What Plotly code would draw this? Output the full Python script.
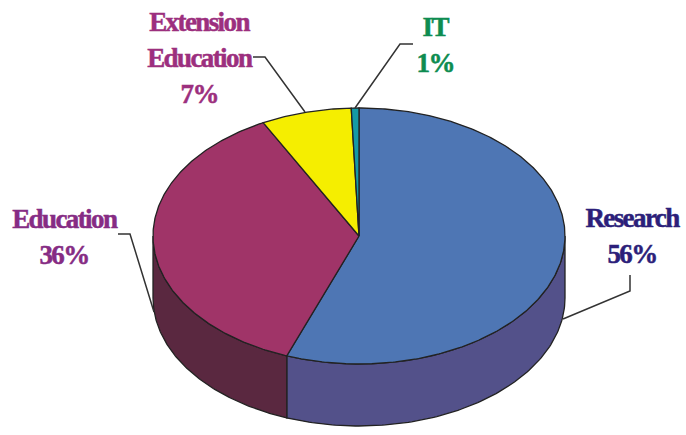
import numpy as np
import plotly.graph_objects as go

categories = ["Research", "Education", "Extension Education", "IT"]
values = [55.7, 36.6, 7.1, 0.6]
top_colors = ["#4E76B4", "#A03468", "#F5EE00", "#159AA5"]
side_colors = ["#53518A", "#5A2840", "#8A8600", "#0C5A60"]
text_colors = ["#2C1F7A", "#862C84", "#9C2F7E", "#0E8C50"]
label_lines = [["Research", "56%"], ["Education", "36%"], ["Extension", "Education", "7%"], ["IT", "1%"]]

CX, CY, RX, RY, DEPTH = 359, 236, 206, 128, 62

fig = go.Figure()
fracs = np.cumsum([0] + values) / sum(values)


def pt(theta, dy=0):
    return CX + RX * np.sin(theta), CY - RY * np.cos(theta) + dy


# sides: front-facing wall parts
for i, v in enumerate(values):
    a0, a1 = fracs[i] * 2 * np.pi, fracs[i + 1] * 2 * np.pi
    lo, hi = max(a0, np.pi / 2), min(a1, 3 * np.pi / 2)
    if hi <= lo:
        continue
    t = np.linspace(lo, hi, 120)
    x1, y1 = pt(t)
    x2, y2 = pt(t[::-1], DEPTH)
    fig.add_trace(go.Scatter(x=np.r_[x1, x2, x1[0]], y=np.r_[y1, y2, y1[0]], mode="lines", fill="toself",
                             fillcolor=side_colors[i], line=dict(color="#222", width=1.3), hoverinfo="skip"))
# top slices
for i, v in enumerate(values):
    t = np.linspace(fracs[i], fracs[i + 1], max(int(v * 6), 8)) * 2 * np.pi
    x, y = pt(t)
    fig.add_trace(go.Scatter(x=np.r_[CX, x, CX], y=np.r_[CY, y, CY], mode="lines", fill="toself",
                             fillcolor=top_colors[i], line=dict(color="#222", width=1.3), name=categories[i],
                             hoverinfo="skip"))

# leader lines
leaders = [
    ([563, 630, 630], [319, 291, 275]),
    ([154, 130, 118], [312, 234, 234]),
    ([305, 265, 253], [112, 57, 57]),
    ([355, 400, 413], [108, 44, 44]),
]
for lx, ly in leaders:
    fig.add_trace(go.Scatter(x=lx, y=ly, mode="lines", line=dict(color="#333", width=1.5), hoverinfo="skip"))

anchors = [(632, 218), (64, 219), (199, 22), (435, 27)]
LH = 36
for lines, (ax, ay), c in zip(label_lines, anchors, text_colors):
    for j, s in enumerate(lines):
        fig.add_annotation(x=ax, y=ay + j * LH, text=s, showarrow=False, xanchor="center", yanchor="middle",
                           font=dict(family="Liberation Serif", size=27, color=c, weight="bold"))

fig.update_layout(width=686, height=435, margin=dict(l=0, r=0, t=0, b=0), showlegend=False,
                  paper_bgcolor="white", plot_bgcolor="white",
                  xaxis=dict(range=[0, 686], visible=False, fixedrange=True),
                  yaxis=dict(range=[435, 0], visible=False, fixedrange=True))
post = ("document.body.style.margin='0';document.body.style.overflow='hidden';"
        "var st=document.createElement('style');"
        "st.textContent='.annotation-text{letter-spacing:-1.6px}';document.head.appendChild(st);"
        "document.querySelectorAll('.annotation-text').forEach(function(t){"
        "t.style.stroke=t.style.fill;t.style.strokeWidth='0.5px';});")
fig.write_html("out.html", config=dict(displayModeBar=False), post_script=post)
